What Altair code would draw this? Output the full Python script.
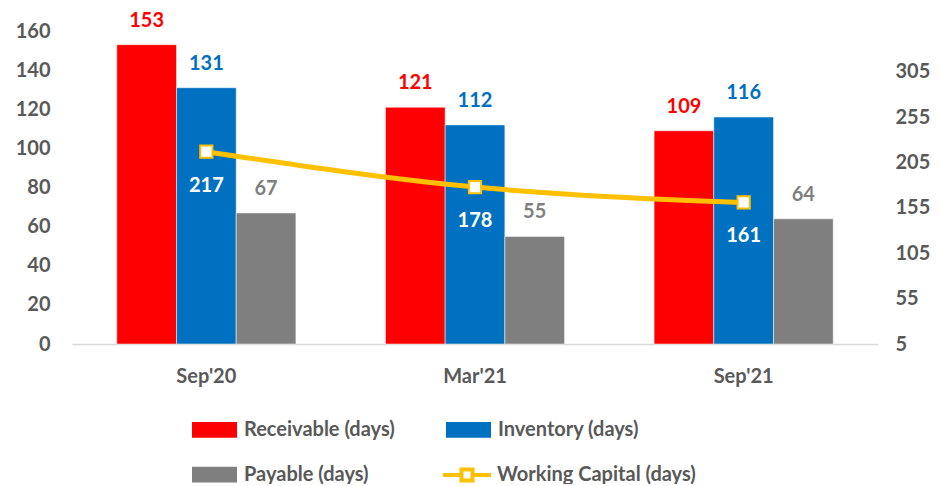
import altair as alt
import pandas as pd

periods = ["Sep'20", "Mar'21", "Sep'21"]
series = ["Receivable (days)", "Inventory (days)", "Payable (days)"]
receivable = [153, 121, 109]
inventory = [131, 112, 116]
payable = [67, 55, 64]
working_capital = [217, 178, 161]
wc_name = "Working Capital (days)"

bar_colors = ["#FF0000", "#0070C0", "#7F7F7F"]
wc_color = "#FFC000"
FONT = "Lato"
TXT = "#595959"

rows = []
for i, p in enumerate(periods):
    for s, vals, c in zip(series, [receivable, inventory, payable], bar_colors):
        rows.append({"Period": p, "Series": s, "Value": vals[i], "TextColor": c})
bars_df = pd.DataFrame(rows)
wc_df = pd.DataFrame({"Period": periods, "WC": working_capital, "Series": [wc_name] * 3})

x_enc = alt.X("Period:N", sort=periods,
              scale=alt.Scale(paddingInner=0.3333, paddingOuter=0.1667),
              axis=alt.Axis(title=None, labelAngle=0, ticks=False, domainColor="#D9D9D9",
                            domainWidth=1.5, labelFont=FONT, labelFontSize=20,
                            labelFontWeight="bold", labelColor=TXT, labelPadding=22))
xoff = alt.XOffset("Series:N", sort=series, scale=alt.Scale(paddingInner=0, paddingOuter=0))

y_left = alt.Y("Value:Q", scale=alt.Scale(domain=[0, 160], nice=False),
               axis=alt.Axis(title=None, values=list(range(0, 161, 20)), grid=False, domain=False,
                             ticks=False, labelFont=FONT, labelFontSize=20, labelFontWeight="bold",
                             labelColor=TXT, labelPadding=22))

bars = alt.Chart(bars_df).mark_bar(stroke="white", strokeWidth=0.5).encode(
    x=x_enc, xOffset=xoff, y=y_left,
    color=alt.Color("Series:N", sort=series,
                    scale=alt.Scale(domain=series, range=bar_colors),
                    legend=alt.Legend(title=None, orient="none", legendX=120, legendY=376,
                                      direction="horizontal",
                                      columns=2, columnPadding=51, rowPadding=12,
                                      symbolType="M-1,-0.35H1V0.35H-1Z", symbolSize=2025,
                                      symbolStrokeWidth=0, labelFont=FONT, labelFontSize=20,
                                      labelFontWeight="bold", labelColor=TXT, labelOffset=7,
                                      labelLimit=400)))

bar_labels = alt.Chart(bars_df).mark_text(font=FONT, fontSize=20, fontWeight="bold",
                                          baseline="middle", dy=-24).encode(
    x=x_enc, xOffset=xoff, y=y_left, text="Value:Q",
    color=alt.Color("TextColor:N", scale=None))

y_right = alt.Y("WC:Q", scale=alt.Scale(domain=[5, 350], nice=False),
                axis=alt.Axis(title=None, orient="right", values=list(range(5, 306, 50)), grid=False,
                              domain=False, ticks=False, labelFont=FONT, labelFontSize=20,
                              labelFontWeight="bold", labelColor=TXT, labelPadding=17))

line = alt.Chart(wc_df).mark_line(strokeWidth=5, interpolate="monotone").encode(
    x=x_enc, y=y_right,
    stroke=alt.Stroke("Series:N", scale=alt.Scale(domain=[wc_name], range=[wc_color]),
                      legend=alt.Legend(title=None, orient="none", legendX=369, legendY=418,
                                        symbolType="M-1,0H-0.23M0.23,0H1M-0.23,-0.23H0.23V0.23H-0.23Z",
                                        symbolSize=2304, symbolStrokeWidth=4,
                                        symbolFillColor="white", labelFont=FONT, labelFontSize=20,
                                        labelFontWeight="bold", labelColor=TXT, labelOffset=4,
                                        labelLimit=400)))

points = alt.Chart(wc_df).mark_point(shape="square", size=150, filled=True, fill="white",
                                     stroke=wc_color, strokeWidth=2, opacity=1).encode(
    x=x_enc, y=y_right)

wc_labels = alt.Chart(wc_df).mark_text(font=FONT, fontSize=20, fontWeight="bold", color="white",
                                       baseline="middle", dy=34).encode(
    x=x_enc, y=y_right, text="WC:Q")

left = alt.layer(bars, bar_labels)
right = alt.layer(line, points, wc_labels)

chart = alt.layer(left, right).resolve_scale(y="independent").properties(
    width=806, height=313,
    autosize=alt.AutoSizeParams(type="none"),
    padding={"left": 64, "top": 23, "right": 54, "bottom": 140},
).configure_view(stroke=None)

chart.save("out.html", embed_options={"renderer": "svg", "actions": False})
